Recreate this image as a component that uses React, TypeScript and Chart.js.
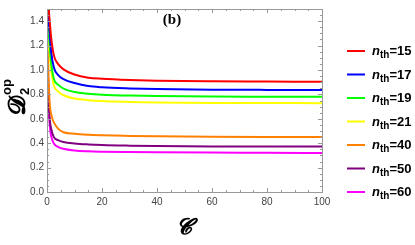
import React, { useEffect, useRef } from "react";
import { Chart, registerables } from "chart.js";
Chart.register(...registerables);

const cValues = [0.05, 0.2, 0.5, 1, 1.5, 2.5, 4, 6, 10, 15, 20, 30, 40, 60, 80, 100];
const seriesLabels = ["15", "17", "19", "21", "40", "50", "60"];
const seriesColors = ["#ff0000", "#0000ff", "#00ff00", "#ffff00", "#ff8000", "#800080", "#ff00ff"];
const n15 = [6.0, 3.0, 1.7, 1.4, 1.27, 1.12, 1.05, 1.005, 0.963, 0.937, 0.928, 0.918, 0.912, 0.907, 0.905, 0.903];
const n17 = [5.5, 2.8, 1.6, 1.3, 1.15, 1.02, 0.96, 0.925, 0.893, 0.868, 0.858, 0.849, 0.844, 0.839, 0.837, 0.836];
const n19 = [5.0, 2.6, 1.5, 1.2, 1.06, 0.926, 0.88, 0.848, 0.82, 0.806, 0.798, 0.79, 0.786, 0.782, 0.781, 0.78];
const n21 = [4.8, 2.5, 1.45, 1.12, 1.0, 0.873, 0.825, 0.793, 0.766, 0.753, 0.745, 0.738, 0.734, 0.73, 0.729, 0.728];
const n40 = [3.5, 1.6, 1.0, 0.72, 0.64, 0.57, 0.52, 0.49, 0.477, 0.469, 0.465, 0.46, 0.456, 0.452, 0.451, 0.451];
const n50 = [3.2, 1.5, 0.85, 0.6, 0.52, 0.45, 0.425, 0.41, 0.398, 0.39, 0.385, 0.38, 0.377, 0.373, 0.372, 0.372];
const n60 = [3.0, 1.45, 0.8, 0.55, 0.46, 0.398, 0.37, 0.354, 0.34, 0.333, 0.33, 0.327, 0.325, 0.323, 0.322, 0.32];
const allSeries = [n15, n17, n19, n21, n40, n50, n60];
const xTicks = [0, 20, 40, 60, 80, 100];
const yTicks = [0, 0.2, 0.4, 0.6, 0.8, 1.0, 1.2, 1.4];

const framePlugin = {
  id: "frame",
  afterDraw(chart: any) {
    const { ctx, chartArea: a, scales } = chart;
    const xs = scales.x, ys = scales.y;
    ctx.save();
    ctx.strokeStyle = "#999";
    ctx.lineWidth = 1;
    ctx.strokeRect(Math.round(a.left) + 0.5, Math.round(a.top) + 0.5, Math.round(a.right - a.left), Math.round(a.bottom - a.top));
    ctx.beginPath();
    for (let v = 0; v <= 100; v += 5) {
      const px = Math.round(xs.getPixelForValue(v)) + 0.5;
      const L = v % 20 === 0 ? 4 : 2;
      ctx.moveTo(px, a.bottom); ctx.lineTo(px, a.bottom - L);
      ctx.moveTo(px, a.top); ctx.lineTo(px, a.top + L);
    }
    for (let i = 0; i <= 30; i++) {
      const v = i * 0.05;
      const py = Math.round(ys.getPixelForValue(v)) + 0.5;
      const L = i % 4 === 0 ? 4 : 2;
      ctx.moveTo(a.left, py); ctx.lineTo(a.left + L, py);
      ctx.moveTo(a.right, py); ctx.lineTo(a.right - L, py);
    }
    ctx.stroke();

    // panel label
    ctx.fillStyle = "#000";
    ctx.font = "bold 15px 'Liberation Serif', serif";
    ctx.textAlign = "center";
    ctx.textBaseline = "middle";
    ctx.fillText("(b)", 172, 20);

    // x title
    ctx.font = "italic bold 22px 'DejaVu Serif', 'Liberation Serif', serif";
    ctx.fillText("\uD835\uDCD2", 184, 228);

    // y title
    ctx.save();
    ctx.translate(17, 98);
    ctx.rotate(-Math.PI / 2);
    ctx.textAlign = "left";
    ctx.textBaseline = "alphabetic";
    ctx.font = "bold 24px 'DejaVu Serif', 'Liberation Serif', serif";
    const dStr = "\uD835\uDCD3";
    const dW = ctx.measureText(dStr).width;
    ctx.fillText(dStr, -dW / 2 - 8, 8);
    ctx.font = "bold 13px 'Liberation Sans', Arial, sans-serif";
    ctx.fillText("op", dW / 2 - 6, -6);
    ctx.fillText("2", dW / 2 - 6, 12);
    ctx.restore();

    // legend
    const ly0 = 51, step = 23.5;
    seriesLabels.forEach((lab, i) => {
      const y = ly0 + i * step;
      ctx.strokeStyle = seriesColors[i];
      ctx.lineWidth = 2;
      ctx.beginPath();
      ctx.moveTo(347, y); ctx.lineTo(365, y);
      ctx.stroke();
      ctx.fillStyle = "#000";
      ctx.textAlign = "left";
      ctx.textBaseline = "alphabetic";
      let x = 372;
      ctx.font = "italic bold 13px 'Liberation Sans', Arial, sans-serif";
      ctx.fillText("n", x, y + 4);
      x += ctx.measureText("n").width;
      ctx.font = "bold 10px 'Liberation Sans', Arial, sans-serif";
      ctx.fillText("th", x, y + 7);
      x += ctx.measureText("th").width;
      ctx.font = "bold 13px 'Liberation Sans', Arial, sans-serif";
      ctx.fillText("=" + lab, x, y + 4);
    });
    ctx.restore();
  },
};

export default function App() {
  const ref = useRef<HTMLCanvasElement>(null);
  useEffect(() => {
    const chart = new Chart(ref.current!, {
      type: "line",
      data: {
        datasets: allSeries.map((s, i) => ({
          label: seriesLabels[i],
          data: s.map((v, j) => ({ x: cValues[j], y: v })),
          borderColor: seriesColors[i],
          borderWidth: 2,
          pointRadius: 0,
          cubicInterpolationMode: "monotone" as const,
          fill: false,
        })),
      },
      options: {
        animation: false,
        responsive: false,
        maintainAspectRatio: false,
        layout: { padding: { left: 0, right: 93, top: 2, bottom: 0 } },
        plugins: { legend: { display: false }, tooltip: { enabled: false } },
        scales: {
          x: {
            type: "linear",
            min: 0,
            max: 100,
            afterFit: (s: any) => { s.height = 53; },
            afterBuildTicks: (s: any) => { s.ticks = xTicks.map((v) => ({ value: v })); },
            grid: { display: false, drawTicks: false },
            border: { display: false },
            ticks: { color: "#444", font: { size: 10, family: "'Liberation Sans', Arial, sans-serif" }, padding: 4 },
          },
          y: {
            type: "linear",
            min: 0,
            max: 1.5,
            afterFit: (s: any) => { s.width = 47; },
            afterBuildTicks: (s: any) => { s.ticks = yTicks.map((v) => ({ value: v })); },
            grid: { display: false, drawTicks: false },
            border: { display: false },
            ticks: {
              color: "#444",
              font: { size: 10, family: "'Liberation Sans', Arial, sans-serif" },
              padding: 3,
              callback: (v: any) => Number(v).toFixed(1),
            },
          },
        },
      },
      plugins: [framePlugin],
    });
    return () => chart.destroy();
  }, []);
  return (
    <div style={{ position: "fixed", left: 0, top: 0, width: 415, height: 245, background: "#fff" }}>
      <canvas ref={ref} width={415} height={245} style={{ width: 415, height: 245 }} />
    </div>
  );
}
